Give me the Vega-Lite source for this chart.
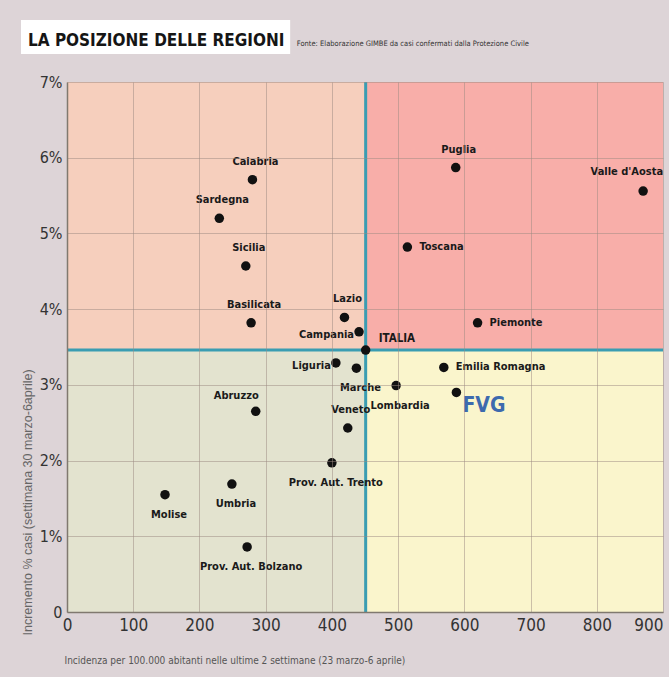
{
  "$schema": "https://vega.github.io/schema/vega-lite/v6.json",
  "width": 596,
  "height": 530,
  "autosize": "none",
  "padding": {"left": 67, "top": 82, "right": 6, "bottom": 65},
  "background": "#ddd4d7",
  "config": {"view": {"stroke": null}, "font": "DejaVu Sans Condensed"},
  "title": {
    "text": "LA POSIZIONE DELLE REGIONI",
    "anchor": "start",
    "dx": 7,
    "offset": -43,
    "fontSize": 17,
    "font": "DejaVu Sans Condensed",
    "fontWeight": "bold",
    "color": "#151515",
    "baseline": "alphabetic"
  },
  "datasets": {
    "quadranti": [
      {"q": "alto-sinistra", "x": 0, "x2": 451, "y": 3.46, "y2": 7},
      {"q": "alto-destra", "x": 451, "x2": 900, "y": 3.46, "y2": 7},
      {"q": "basso-sinistra", "x": 0, "x2": 451, "y": 0, "y2": 3.46},
      {"q": "basso-destra", "x": 451, "x2": 900, "y": 0, "y2": 3.46}
    ],
    "regioni": [
      {"regione": "Calabria", "incidenza": 280, "incremento": 5.71},
      {"regione": "Sardegna", "incidenza": 230, "incremento": 5.2},
      {"regione": "Sicilia", "incidenza": 270, "incremento": 4.57},
      {"regione": "Basilicata", "incidenza": 278, "incremento": 3.82},
      {"regione": "Lazio", "incidenza": 419, "incremento": 3.89},
      {"regione": "Campania", "incidenza": 441, "incremento": 3.7},
      {"regione": "ITALIA", "incidenza": 451, "incremento": 3.46},
      {"regione": "Liguria", "incidenza": 406, "incremento": 3.29},
      {"regione": "Marche", "incidenza": 437, "incremento": 3.22},
      {"regione": "Toscana", "incidenza": 514, "incremento": 4.82},
      {"regione": "Puglia", "incidenza": 587, "incremento": 5.87},
      {"regione": "Valle d'Aosta", "incidenza": 870, "incremento": 5.56},
      {"regione": "Piemonte", "incidenza": 620, "incremento": 3.82},
      {"regione": "Emilia Romagna", "incidenza": 569, "incremento": 3.23},
      {"regione": "Lombardia", "incidenza": 497, "incremento": 2.99},
      {"regione": "FVG", "incidenza": 588, "incremento": 2.9},
      {"regione": "Veneto", "incidenza": 424, "incremento": 2.43},
      {"regione": "Prov. Aut. Trento", "incidenza": 400, "incremento": 1.97},
      {"regione": "Abruzzo", "incidenza": 285, "incremento": 2.65},
      {"regione": "Umbria", "incidenza": 249, "incremento": 1.69},
      {"regione": "Molise", "incidenza": 148, "incremento": 1.55},
      {"regione": "Prov. Aut. Bolzano", "incidenza": 272, "incremento": 0.86}
    ]
  },
  "data": {"name": "regioni"},
  "layer": [
    {
      "data": {"name": "quadranti"},
      "mark": {"type": "rect"},
      "encoding": {
        "x": {
          "field": "x", "type": "quantitative",
          "scale": {"domain": [0, 900], "nice": false, "zero": false},
          "axis": {
            "values": [0, 100, 200, 300, 400, 500, 600, 700, 800, 900],
            "grid": true, "gridColor": "#9c8a82", "gridOpacity": 0.5, "gridWidth": 1,
            "ticks": false, "domainColor": "#80796f", "domainWidth": 1.5,
            "labelFont": "DejaVu Sans Condensed", "labelFontSize": 17, "labelColor": "#333333",
            "labelPadding": 5, "labelFlush": false,
            "labelAlign": {"condition": {"test": "datum.value == 900", "value": "right"}, "value": "center"},
            "title": "Incidenza per 100.000 abitanti  nelle ultime 2 settimane (23 marzo-6 aprile)",
            "titleFont": "DejaVu Sans Condensed", "titleFontSize": 10, "titleFontWeight": "normal",
            "titleColor": "#555555", "titleAnchor": "start", "titleAlign": "left",
            "titleX": -3, "titleY": 48, "titleBaseline": "middle",
            "zindex": 1
          }
        },
        "x2": {"field": "x2"},
        "y": {
          "field": "y", "type": "quantitative",
          "scale": {"domain": [0, 7], "nice": false, "zero": false},
          "axis": {
            "values": [0, 1, 2, 3, 4, 5, 6, 7],
            "labelExpr": "datum.value == 0 ? '0' : datum.value + '%'",
            "grid": true, "gridColor": "#9c8a82", "gridOpacity": 0.5, "gridWidth": 1,
            "ticks": false, "domainColor": "#80796f", "domainWidth": 1.5,
            "labelFont": "DejaVu Sans Condensed", "labelFontSize": 16, "labelColor": "#333333",
            "labelPadding": 5,
            "title": "Incremento % casi (settimana 30 marzo-6aprile)",
            "titleFont": "Liberation Sans", "titleFontSize": 12.5, "titleFontWeight": "normal",
            "titleColor": "#666666", "titleAngle": -90, "titleAlign": "left",
            "titleX": -40, "titleY": 553, "titleBaseline": "middle",
            "zindex": 1
          }
        },
        "y2": {"field": "y2"},
        "color": {
          "field": "q", "type": "nominal", "legend": null,
          "scale": {
            "domain": ["alto-sinistra", "alto-destra", "basso-sinistra", "basso-destra"],
            "range": ["#f6cfbd", "#f8aea9", "#e3e3cf", "#faf5cc"]
          }
        }
      }
    },
    {
      "data": {"values": [{}]},
      "mark": {"type": "rect", "fill": "#ffffff"},
      "encoding": {
        "x": {"datum": -69.5, "type": "quantitative"},
        "x2": {"datum": 337},
        "y": {"datum": 7.82, "type": "quantitative"},
        "y2": {"datum": 7.37}
      }
    },
    {
      "data": {"values": [{}]},
      "mark": {"type": "text", "align": "left", "baseline": "middle", "font": "DejaVu Sans Condensed", "fontSize": 7.5, "color": "#333333"},
      "encoding": {
        "x": {"datum": 347, "type": "quantitative"},
        "y": {"datum": 7.5, "type": "quantitative"},
        "text": {"value": "Fonte: Elaborazione GIMBE da casi confermati dalla Protezione Civile"}
      }
    },
    {
      "transform": [{"filter": "datum.regione == 'ITALIA'"}],
      "mark": {"type": "rule", "color": "#3a9db2", "strokeWidth": 3},
      "encoding": {"x": {"field": "incidenza", "type": "quantitative"}}
    },
    {
      "transform": [{"filter": "datum.regione == 'ITALIA'"}],
      "mark": {"type": "rule", "color": "#3a9db2", "strokeWidth": 3},
      "encoding": {"y": {"field": "incremento", "type": "quantitative"}}
    },
    {
      "mark": {"type": "circle", "size": 90, "color": "#111111", "opacity": 1},
      "encoding": {
        "x": {"field": "incidenza", "type": "quantitative"},
        "y": {"field": "incremento", "type": "quantitative"}
      }
    },
    {
      "transform": [{"filter": {"field": "regione", "oneOf": ["Calabria", "Sardegna", "Sicilia", "Basilicata", "Lazio", "Puglia", "Veneto"]}}],
      "mark": {"type": "text", "align": "center", "baseline": "middle", "dx": 3, "dy": -18, "font": "DejaVu Sans Condensed", "fontWeight": "bold", "fontSize": 11, "color": "#1a1a1a"},
      "encoding": {
        "x": {"field": "incidenza", "type": "quantitative"},
        "y": {"field": "incremento", "type": "quantitative"},
        "text": {"field": "regione"}
      }
    },
    {
      "transform": [{"filter": {"field": "regione", "oneOf": ["Marche", "Lombardia", "Prov. Aut. Trento", "Umbria", "Molise", "Prov. Aut. Bolzano"]}}],
      "mark": {"type": "text", "align": "center", "baseline": "middle", "dx": 4, "dy": 20, "font": "DejaVu Sans Condensed", "fontWeight": "bold", "fontSize": 11, "color": "#1a1a1a"},
      "encoding": {
        "x": {"field": "incidenza", "type": "quantitative"},
        "y": {"field": "incremento", "type": "quantitative"},
        "text": {"field": "regione"}
      }
    },
    {
      "transform": [{"filter": {"field": "regione", "oneOf": ["Campania", "Liguria"]}}],
      "mark": {"type": "text", "align": "right", "baseline": "middle", "dx": -5, "dy": 3, "font": "DejaVu Sans Condensed", "fontWeight": "bold", "fontSize": 11, "color": "#1a1a1a"},
      "encoding": {
        "x": {"field": "incidenza", "type": "quantitative"},
        "y": {"field": "incremento", "type": "quantitative"},
        "text": {"field": "regione"}
      }
    },
    {
      "transform": [{"filter": {"field": "regione", "oneOf": ["Toscana", "Piemonte", "Emilia Romagna"]}}],
      "mark": {"type": "text", "align": "left", "baseline": "middle", "dx": 12, "dy": 0, "font": "DejaVu Sans Condensed", "fontWeight": "bold", "fontSize": 11, "color": "#1a1a1a"},
      "encoding": {
        "x": {"field": "incidenza", "type": "quantitative"},
        "y": {"field": "incremento", "type": "quantitative"},
        "text": {"field": "regione"}
      }
    },
    {
      "transform": [{"filter": {"field": "regione", "oneOf": ["ITALIA"]}}],
      "mark": {"type": "text", "align": "left", "baseline": "middle", "dx": 13, "dy": -11, "font": "DejaVu Sans Condensed", "fontWeight": "bold", "fontSize": 11.5, "color": "#1a1a1a"},
      "encoding": {
        "x": {"field": "incidenza", "type": "quantitative"},
        "y": {"field": "incremento", "type": "quantitative"},
        "text": {"field": "regione"}
      }
    },
    {
      "transform": [{"filter": {"field": "regione", "oneOf": ["Valle d'Aosta"]}}],
      "mark": {"type": "text", "align": "right", "baseline": "middle", "dx": 20, "dy": -19, "font": "DejaVu Sans Condensed", "fontWeight": "bold", "fontSize": 11, "color": "#1a1a1a"},
      "encoding": {
        "x": {"field": "incidenza", "type": "quantitative"},
        "y": {"field": "incremento", "type": "quantitative"},
        "text": {"field": "regione"}
      }
    },
    {
      "transform": [{"filter": {"field": "regione", "oneOf": ["Abruzzo"]}}],
      "mark": {"type": "text", "align": "right", "baseline": "middle", "dx": 3, "dy": -15, "font": "DejaVu Sans Condensed", "fontWeight": "bold", "fontSize": 11, "color": "#1a1a1a"},
      "encoding": {
        "x": {"field": "incidenza", "type": "quantitative"},
        "y": {"field": "incremento", "type": "quantitative"},
        "text": {"field": "regione"}
      }
    },
    {
      "transform": [{"filter": {"field": "regione", "oneOf": ["FVG"]}}],
      "mark": {"type": "text", "align": "left", "baseline": "middle", "dx": 6, "dy": 14, "font": "DejaVu Sans Condensed", "fontWeight": "bold", "fontSize": 21, "color": "#3d6aae"},
      "encoding": {
        "x": {"field": "incidenza", "type": "quantitative"},
        "y": {"field": "incremento", "type": "quantitative"},
        "text": {"field": "regione"}
      }
    }
  ]
}
